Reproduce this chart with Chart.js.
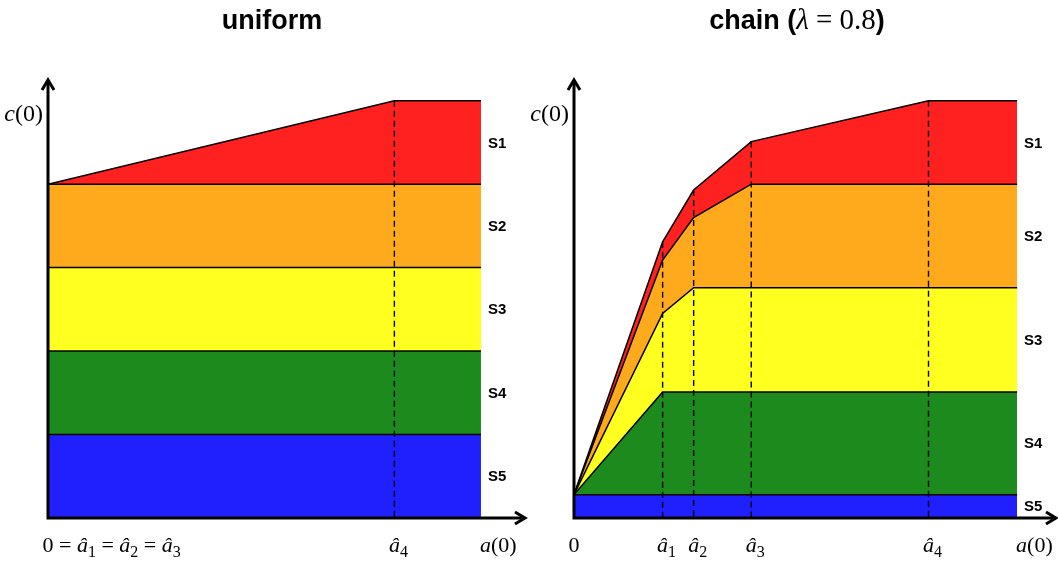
<!DOCTYPE html>
<html>
<head>
<meta charset="utf-8">
<script src="https://cdn.jsdelivr.net/npm/chart.js@4/dist/chart.umd.min.js"></script>
<style>
  body { margin: 0; background: #fff; width: 1058px; height: 561px; overflow: hidden; position: relative; }
  canvas { position: absolute; top: 0; }
  #left { left: 0; }
  #right { left: 520px; }
</style>
</head>
<body>
<canvas id="left" width="532" height="561"></canvas>
<canvas id="right" width="538" height="561"></canvas>
<script>
// Bands, bottom to top
const bandNames = ["S5", "S4", "S3", "S2", "S1"];
const bandColors = ["#2020ff", "#1c8a1c", "#ffff20", "#ffaa1c", "#ff2020"];

// uniform: cumulative tops of each band at each a(0)
const uniX = [0, 0.8, 1];
const uniS5 = [1, 1, 1];
const uniS4 = [2, 2, 2];
const uniS3 = [3, 3, 3];
const uniS2 = [4, 4, 4];
const uniS1 = [4, 5, 5];
const uniTicks = [0, 0.8];
const uniTickLabels = ["0 = â_1 = â_2 = â_3", "â_4"];

// chain (lambda = 0.8)
const chainX = [0, 0.2, 0.27, 0.4, 0.8, 1];
const chainS5 = [0.28, 0.28, 0.28, 0.28, 0.28, 0.28];
const chainS4 = [0.28, 1.51, 1.51, 1.51, 1.51, 1.51];
const chainS3 = [0.28, 2.45, 2.76, 2.76, 2.76, 2.76];
const chainS2 = [0.28, 3.09, 3.60, 4.0, 4.0, 4.0];
const chainS1 = [0.28, 3.31, 3.93, 4.51, 5.0, 5.0];
const chainTicks = [0, 0.2, 0.27, 0.4, 0.8];
const chainTickLabels = ["0", "â_1", "â_2", "â_3", "â_4"];

const SERIF = '"Liberation Serif", "DejaVu Serif", serif';
const SANS = '"Liberation Sans", Arial, sans-serif';

function parseMath(s) {
  const parts = [];
  for (let i = 0; i < s.length; i++) {
    const ch = s[i];
    if (ch === "_") { parts.push({ t: s[++i], k: "sub" }); continue; }
    parts.push({ t: ch, k: /[a-zâλ]/.test(ch) ? "it" : "rm" });
  }
  return parts;
}

function fontFor(k, size) {
  if (k === "it") return `italic ${size}px ${SERIF}`;
  if (k === "sub") return `${Math.round(size * 0.72)}px ${SERIF}`;
  return `${size}px ${SERIF}`;
}

function drawMath(ctx, s, x, y, size, anchor) {
  const parts = parseMath(s);
  const widths = parts.map(p => { ctx.font = fontFor(p.k, size); return ctx.measureText(p.t).width; });
  const total = widths.reduce((a, b) => a + b, 0);
  let cx = anchor === "first" ? x - widths[0] / 2 : anchor === "right" ? x - total : x;
  ctx.textAlign = "left";
  ctx.textBaseline = "alphabetic";
  parts.forEach((p, i) => {
    ctx.font = fontFor(p.k, size);
    ctx.fillText(p.t, cx, p.k === "sub" ? y + size * 0.22 : y);
    cx += widths[i];
  });
}

function makeDatasets(xs, tops) {
  return tops.map((vals, i) => ({
    label: bandNames[i],
    data: xs.map((x, j) => ({ x: x, y: vals[j] })),
    backgroundColor: bandColors[i],
    borderColor: "#000",
    borderWidth: 1.5,
    pointRadius: 0,
    tension: 0,
    fill: i === 0 ? "origin" : "-1"
  }));
}

// axes with arrows, dashed guides, band names, tick labels, titles
const decor = {
  id: "decor",
  afterDatasetsDraw(chart, args, o) {
    const { ctx, chartArea } = chart;
    const x = chart.scales.x, y = chart.scales.y;
    const x0 = x.getPixelForValue(0), y0 = y.getPixelForValue(0);
    const top = chart.data.datasets[chart.data.datasets.length - 1].data;
    ctx.save();
    ctx.fillStyle = "#000";
    ctx.strokeStyle = "#000";

    // dashed guides at the hat positions
    ctx.setLineDash([6, 4]);
    ctx.lineWidth = 1.4;
    o.guides.forEach(v => {
      const pt = top.find(d => d.x === v);
      const px = x.getPixelForValue(v);
      ctx.beginPath();
      ctx.moveTo(px, y.getPixelForValue(pt.y));
      ctx.lineTo(px, y0);
      ctx.stroke();
    });
    ctx.setLineDash([]);

    // axes
    ctx.lineWidth = 3;
    ctx.lineJoin = "miter";
    ctx.beginPath();
    ctx.moveTo(x0, chartArea.top + 1);
    ctx.lineTo(x0, y0);
    ctx.lineTo(chartArea.right - 1, y0);
    ctx.stroke();
    ctx.beginPath();
    ctx.moveTo(x0 - 6, chartArea.top + 11);
    ctx.lineTo(x0, chartArea.top + 1);
    ctx.lineTo(x0 + 6, chartArea.top + 11);
    ctx.moveTo(chartArea.right - 11, y0 - 6);
    ctx.lineTo(chartArea.right - 1, y0);
    ctx.lineTo(chartArea.right - 11, y0 + 6);
    ctx.stroke();

    // band names at the right end
    const ds = chart.data.datasets;
    const last = ds[0].data.length - 1;
    const xr = x.getPixelForValue(ds[0].data[last].x) + 7;
    ctx.font = `bold 15px "Liberation Sans Narrow", ${SANS}`;
    ctx.textAlign = "left";
    ctx.textBaseline = "middle";
    ds.forEach((d, i) => {
      const hi = d.data[last].y;
      const lo = i === 0 ? 0 : ds[i - 1].data[last].y;
      ctx.fillText(d.label, xr, y.getPixelForValue((hi + lo) / 2) + 1);
    });

    // tick labels and axis titles
    o.ticks.forEach((v, i) => drawMath(ctx, o.tickLabels[i], x.getPixelForValue(v), y0 + 34, 22, "first"));
    drawMath(ctx, "a(0)", xr - 8, y0 + 34, 22, "left");
    drawMath(ctx, "c(0)", x0 - 5, chartArea.top + 42, 24, "right");

    // title
    ctx.textBaseline = "alphabetic";
    const tparts = o.title;
    const widths = tparts.map(p => { ctx.font = p.f; return ctx.measureText(p.t).width; });
    let cx = o.titleX - widths.reduce((a, b) => a + b, 0) / 2;
    tparts.forEach((p, i) => { ctx.font = p.f; ctx.fillText(p.t, cx, 29); cx += widths[i]; });
    ctx.restore();
  }
};

function makeChart(id, xs, tops, xmax, pad, ticks, tickLabels, guides, title, titleX) {
  return new Chart(document.getElementById(id), {
    type: "line",
    data: { datasets: makeDatasets(xs, tops) },
    options: {
      responsive: false,
      animation: false,
      layout: { padding: pad },
      scales: {
        x: { type: "linear", min: 0, max: xmax, display: false },
        y: { min: 0, max: 5.26, display: false }
      },
      plugins: {
        legend: { display: false },
        tooltip: { enabled: false },
        decor: { ticks, tickLabels, guides, title, titleX }
      }
    },
    plugins: [decor]
  });
}

makeChart("left", uniX, [uniS5, uniS4, uniS3, uniS2, uniS1], 1.104,
  { left: 48, right: 6, top: 79, bottom: 43 },
  uniTicks, uniTickLabels, [0.8],
  [{ t: "uniform", f: `bold 27px ${SANS}` }], 272);

makeChart("right", chainX, [chainS5, chainS4, chainS3, chainS2, chainS1], 1.09,
  { left: 54, right: 1, top: 79, bottom: 43 },
  chainTicks, chainTickLabels, [0.2, 0.27, 0.4, 0.8],
  [{ t: "chain (", f: `bold 27px ${SANS}` }, { t: "λ", f: `italic 29px ${SERIF}` },
   { t: " = 0.8", f: `29px ${SERIF}` }, { t: ")", f: `bold 27px ${SANS}` }], 277);
</script>
</body>
</html>
